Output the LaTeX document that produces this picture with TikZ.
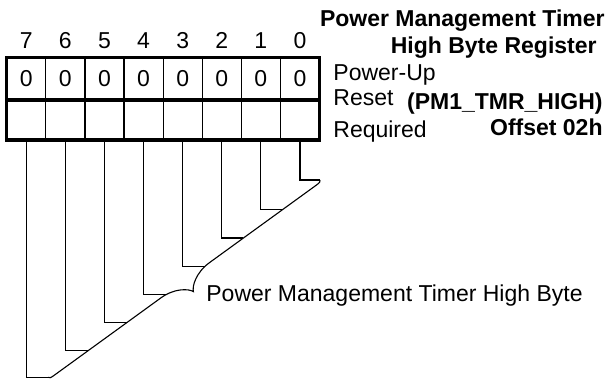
\documentclass[tikz,border=0pt]{standalone}
\usepackage{fontspec}
\setmainfont{Liberation Sans}
\usetikzlibrary{positioning}

\tikzset{
  regfont/.style={font=\fontsize{11.5}{14}\selectfont},
  bitcell/.style={draw, line width=0.6pt, minimum width=19.55pt, outer sep=0pt, inner sep=0pt, regfont},
  txt/.style={inner sep=0pt, regfont},
  boldtxt/.style={inner sep=0pt, font=\fontsize{11.5}{14}\selectfont\bfseries},
  wire/.style={line width=0.55pt},
  frame/.style={line width=1.6pt},
}

\begin{document}
\begin{tikzpicture}[x=0.5pt, y=-0.5pt]
\useasboundingbox (0,0) rectangle (613,379);

% register cells, bit 7 on the left
\foreach \b in {0,...,7} {
  \node[bitcell, minimum height=21.15pt] (top\b) at ({26.25+39.1*(7-\b)},78.85) {0};
  \node[bitcell, minimum height=20pt] (bot\b) at ({26.25+39.1*(7-\b)},120) {};
  \node[txt, above=4.7pt of top\b.north, anchor=base] (num\b) {\b};
}
\draw[frame] (top7.north west) rectangle (bot0.south east);
\draw[frame] (top7.south west) -- (top0.south east);

% titles and row labels
\node[boldtxt, anchor=base east] (title1) at (605,26.7) {Power Management Timer};
\node[boldtxt, anchor=base east] (title2) at (597,53.5) {High Byte Register};
\node[txt, anchor=base west] (pwrup) at (333,80.5) {Power-Up};
\node[txt, anchor=base west] (reset) at (333,105.5) {Reset};
\node[txt, anchor=base west] (req) at (333,138) {Required};
\node[boldtxt, anchor=base east] (regname) at (603,109.5) {(PM1\_TMR\_HIGH)};
\node[boldtxt, anchor=base east] (offset) at (603,135.5) {Offset 02h};

% bit lines into the brace
\foreach \b/\sx/\sy in {0/320/180, 1/282.31/209.81, 2/243.46/237.99, 3/204.60/266.18,
                        4/165.74/294.36, 5/126.89/322.55, 6/88.03/350.73, 7/48/377.3}
  \coordinate (s\b) at (\sx,\sy);
\foreach \b in {0,...,7}
  \draw[wire] (bot\b.south) |- (s\b);

\coordinate (tip) at (193.4,291.6);
\draw[wire] (s0) .. controls (320.88,181.21) and (319.55,182.79) .. (316.31,185.14)
  -- (209.46,262.65) .. controls (195.69,272.64) and (192.08,286.38) .. (tip)
  .. controls (188.84,288.72) and (174.65,287.90) .. (160.88,297.89)
  -- (54.03,375.40) .. controls (50.79,377.74) and (48.88,378.51) .. (s7);

\node[txt, anchor=base west] (field) at (206,301.7) {Power Management Timer High Byte};
\end{tikzpicture}
\end{document}
